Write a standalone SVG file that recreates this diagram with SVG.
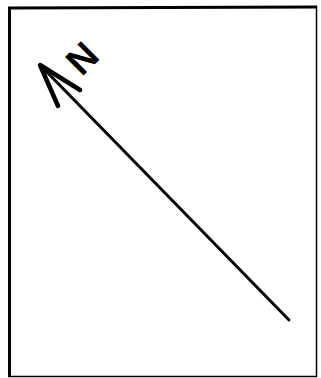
<svg xmlns="http://www.w3.org/2000/svg" width="321" height="378" viewBox="0 0 321 378">
<style>
.frame{fill:none;stroke:#000}
.ln{fill:none;stroke:#000;stroke-linecap:round;stroke-linejoin:round}
.lbl{font-family:"Liberation Sans",Arial,sans-serif;font-weight:bold;font-size:38px;fill:#000}
</style>
<rect width="321" height="378" fill="#fff"/>
<g id="frame">
<line class="frame" x1="9.5" y1="7" x2="9.5" y2="377" stroke-width="3"/>
<line class="frame" x1="8" y1="8" x2="317" y2="7" stroke-width="3"/>
<line class="frame" x1="316.5" y1="6" x2="316.5" y2="377" stroke-width="1.5"/>
<line class="frame" x1="8" y1="376.5" x2="317" y2="376.5" stroke-width="1.5"/>
</g>
<g id="connectors">
<line class="ln" x1="289" y1="320" x2="41" y2="66" stroke-width="3"/>
<polyline class="ln" points="58,106 40,65 80,90" stroke-width="4.5"/>
</g>
<g id="north">
<text class="lbl" x="0" y="0" text-anchor="middle" transform="translate(82,58) rotate(-45) translate(0,13.5)">N</text>
</g>
</svg>
